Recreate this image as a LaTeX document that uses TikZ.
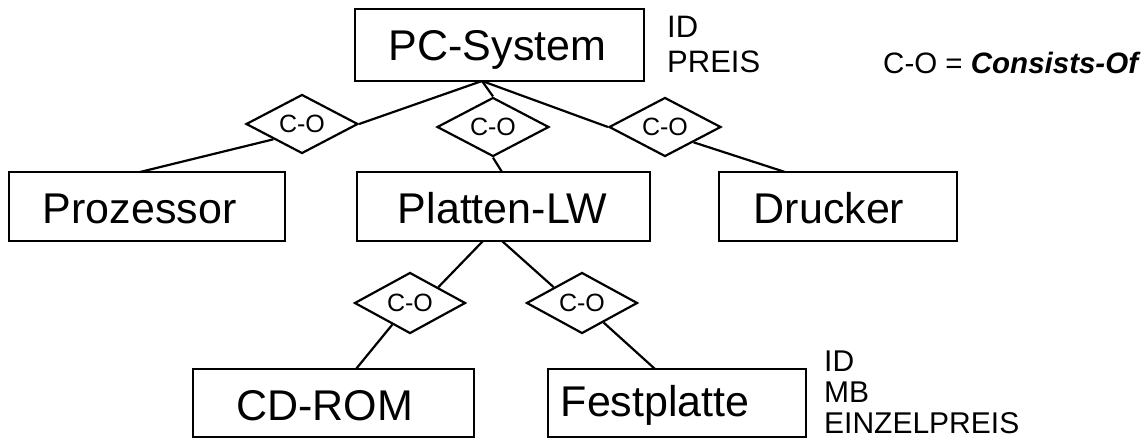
\documentclass[tikz,border=0pt]{standalone}
\usepackage{fontspec}
\setmainfont{Liberation Sans}
\usetikzlibrary{shapes.geometric}
\begin{document}
\begin{tikzpicture}[x=1pt,y=-1pt,
  ent/.style={draw, line width=2.8pt, rectangle, inner sep=0pt},
  rel/.style={draw, line width=2.2pt, diamond, aspect=2, inner sep=0pt,
    minimum width=112pt, minimum height=59pt, fill=white,
    font=\fontsize{25}{25}\selectfont},
  lbl/.style={inner sep=0pt, anchor=base west, font=\fontsize{43}{43}\selectfont},
  attr/.style={inner sep=0pt, anchor=north west, align=left},
  link/.style={line width=2.2pt}]
\useasboundingbox (0,0) rectangle (1146,439);

% entities
\node[ent, minimum width=289pt, minimum height=72pt] (pc) at (499.5,45) {};
\node[lbl] (pct) at (388.7,60) {PC-System};
\node[ent, minimum width=276pt, minimum height=69pt] (proz) at (147,206.5) {};
\node[lbl] (prozt) at (42.7,223.3) {Prozessor};
\node[ent, minimum width=293pt, minimum height=69pt] (platt) at (503.5,206.5) {};
\node[lbl] (plattt) at (397.7,223.3) {Platten-LW};
\node[ent, minimum width=238pt, minimum height=69pt] (druck) at (838,206.5) {};
\node[lbl] (druckt) at (753.6,223.3) {Drucker};
\node[ent, minimum width=281pt, minimum height=68pt] (cd) at (333.5,403) {};
\node[lbl] (cdt) at (235.9,420) {CD-ROM};
\node[ent, minimum width=258pt, minimum height=68pt] (fest) at (677,403) {};
\node[lbl] (festt) at (560.6,416) {Festplatte};

% attributes and legend
\node[attr, font=\fontsize{31}{35}\selectfont] (pcattr) at (667,15.8) {ID\\PREIS};
\node[attr, font=\fontsize{30}{31}\selectfont] (festattr) at (824,350.5) {ID\\MB\\EINZELPREIS};
\node[inner sep=0pt, anchor=base west, font=\fontsize{29.5}{29.5}\selectfont] (legend) at (883,73)
  {C-O = \textbf{\textit{Consists-Of}}};

% anchor points on boxes
\coordinate (pcb) at (482,81);
\coordinate (prozt1) at (140,172);
\coordinate (plattt1) at (502,172);
\coordinate (druckt1) at (785,172);
\coordinate (plattb1) at (483,241);
\coordinate (plattb2) at (502,241);
\coordinate (cdt1) at (356,369);
\coordinate (festt1) at (655,369);

% relationships
\node[rel] (d1) at (302,124) {C-O};
\node[rel] (d2) at (493,127) {C-O};
\node[rel] (d3) at (665,127) {C-O};
\node[rel, minimum width=111pt, minimum height=61pt] (d4) at (410,303) {C-O};
\node[rel, minimum width=111pt, minimum height=61pt] (d5) at (582,303) {C-O};

% connectors
\draw[link] (pcb) -- (d1.east);
\draw[link] (d1.south west) -- (prozt1);
\draw[link] (pcb) -- (d2.north);
\draw[link] (d2.south) -- (plattt1);
\draw[link] (pcb) -- (d3.west);
\draw[link] (d3.south east) -- (druckt1);
\draw[link] (plattb1) -- (d4.north east);
\draw[link] (d4) -- (cdt1);
\draw[link] (plattb2) -- (d5.north west);
\draw[link] (d5) -- (festt1);
\end{tikzpicture}
\end{document}
